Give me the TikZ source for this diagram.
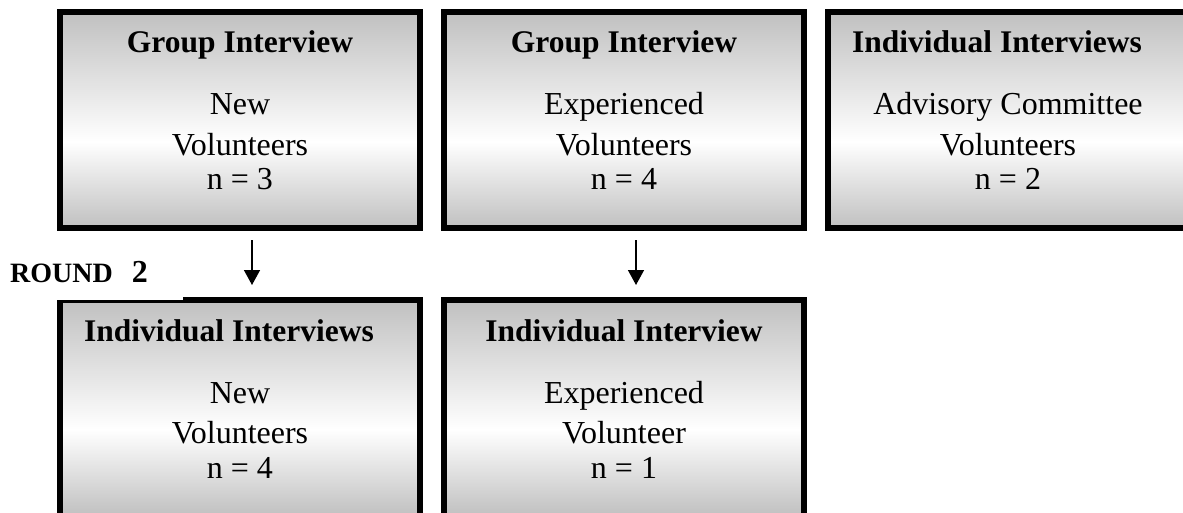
\documentclass[tikz,border=0pt]{standalone}
\usepackage{fontspec}
\setmainfont{Liberation Serif}
\usetikzlibrary{arrows.meta}
\definecolor{boxgray}{RGB}{192,192,192}
\pgfdeclareverticalshading{boxshade}{100bp}{color(0bp)=(boxgray); color(25bp)=(boxgray); color(45bp)=(white); color(75bp)=(boxgray); color(100bp)=(boxgray)}
\begin{document}
\begin{tikzpicture}[
        x=1pt, y=-1pt,
        node distance=384pt,
        box/.style={draw, line width=6pt, shading=boxshade, minimum width=360pt, minimum height=216pt},
        boxtitle/.style={font=\fontsize{31.5}{38}\selectfont\bfseries, anchor=base, inner sep=0pt},
        boxbody/.style={font=\fontsize{32}{37}\selectfont, align=center, anchor=base, inner sep=0pt},
        flow/.style={line width=1.5pt, -{Triangle[width=16pt,length=15pt]}, shorten <=9pt, shorten >=12pt}
    ]
    \useasboundingbox (0,0) rectangle (1183,513);
    \node[box] (grpnew) at (240,120) {};
    \node[box, right of=grpnew] (grpexp) {};
    \node[box, right of=grpexp] (indadv) {};
    \node[box, node distance=288pt, below of=grpnew] (indnew) {};
    \node[box, node distance=288pt, below of=grpexp] (indexp) {};
    \node[boxtitle] (grpnew-t) at ([yshift=-44pt]grpnew.north) {Group Interview};
    \node[boxtitle] (grpexp-t) at ([yshift=-44pt]grpexp.north) {Group Interview};
    \node[boxtitle] (indadv-t) at ([xshift=-11pt, yshift=-44pt]indadv.north) {Individual Interviews};
    \node[boxtitle] (indnew-t) at ([xshift=-11pt, yshift=-44pt]indnew.north) {Individual Interviews};
    \node[boxtitle] (indexp-t) at ([yshift=-44pt]indexp.north) {Individual Interview};
    \node[boxbody] (grpnew-b) at ([yshift=-181pt]grpnew.north) {New\\[3pt] Volunteers\\[-2pt] n = 3};
    \node[boxbody] (grpexp-b) at ([yshift=-181pt]grpexp.north) {Experienced\\[3pt] Volunteers\\[-2pt] n = 4};
    \node[boxbody] (indadv-b) at ([yshift=-181pt]indadv.north) {Advisory Committee\\[3pt] Volunteers\\[-2pt] n = 2};
    \node[boxbody] (indnew-b) at ([yshift=-181pt]indnew.north) {New\\[3pt] Volunteers\\[-2pt] n = 4};
    \node[boxbody] (indexp-b) at ([yshift=-181pt]indexp.north) {Experienced\\[3pt] Volunteer\\[-2pt] n = 1};
    \node[
        anchor=base west,
        fill=white,
        inner xsep=0pt,
        inner ysep=18pt,
        text width=173pt,
        align=left,
        font=\fontsize{28}{34}\selectfont\bfseries
    ] (round2) at (10,282) {ROUND\hspace{19pt}{\fontsize{32}{38}\selectfont 2}};
    \draw[flow] ([xshift=12pt]grpnew.south) -- ([xshift=12pt]grpnew.south |- indnew.north);
    \draw[flow] ([xshift=12pt]grpexp.south) -- ([xshift=12pt]grpexp.south |- indexp.north);
\end{tikzpicture}
\end{document}
